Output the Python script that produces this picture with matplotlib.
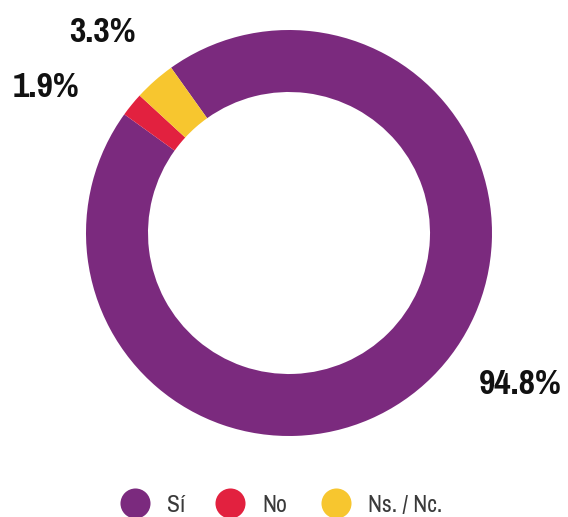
import matplotlib
matplotlib.use("Agg")
import matplotlib.pyplot as plt
from matplotlib import font_manager as fm

categories = ["Sí", "No", "Ns. / Nc."]
values = [94.8, 1.9, 3.3]
labels = ["94.8%", "1.9%", "3.3%"]
colors = ["#7B2A7E", "#E2213F", "#F7C62F"]

BAD = ("italic", "oblique", "semi", "medium", "black", "extra", "thin", "light", "heavy")


def find_font(bold):
    cands = []
    for f in fm.fontManager.ttflist:
        fn = f.fname.lower().rsplit("/", 1)[-1]
        if "condensed" in fn or "narrow" in fn or f.stretch in ("condensed", "semi-condensed"):
            if any(b in fn.replace("semicondensed", "").replace("semi-condensed", "") for b in BAD):
                continue
            isbold = "bold" in fn
            if isbold == bold:
                cands.append(f.fname)
    cands.sort(key=lambda s: (("narrow" not in s.lower()), len(s), s))
    return cands


bold_c = find_font(True)
reg_c = find_font(False)
bold_fp = fm.FontProperties(fname=bold_c[0]) if bold_c else fm.FontProperties(family="DejaVu Sans", weight="bold", stretch="condensed")
reg_fp = fm.FontProperties(fname=reg_c[0]) if reg_c else fm.FontProperties(family="DejaVu Sans", stretch="condensed")

W, H = 568, 517
fig = plt.figure(figsize=(W / 100, H / 100), dpi=100)
ax = fig.add_axes([0, 0, 1, 1])

cx, cy, R = 289, H - 233, 203
wedges, _ = ax.pie(values, colors=colors, startangle=125.5, counterclock=False,
                   radius=R, center=(cx, cy), frame=True,
                   wedgeprops=dict(width=62, linewidth=0))
ax.set_xlim(0, W)
ax.set_ylim(0, H)
ax.set_aspect("equal")
ax.axis("off")

label_pos = [(520, H - 384), (46, H - 87), (103, H - 32)]
for lab, (x, y) in zip(labels, label_pos):
    fp = bold_fp.copy()
    fp.set_size(28)
    ax.text(x, y, lab, ha="center", va="center", fontproperties=fp, color="#111111")

leg_x = [135, 230, 336]
leg_y = H - 503
for cat, col, x in zip(categories, colors, leg_x):
    ax.scatter([x], [leg_y], s=30 ** 2 * 0.52, color=col, linewidths=0, clip_on=False)
    fp = reg_fp.copy()
    fp.set_size(17)
    ax.text(x + 32, leg_y - 3, cat, ha="left", va="center", fontproperties=fp, color="#3a3a3a")

fig.savefig("out.png", dpi=100)
